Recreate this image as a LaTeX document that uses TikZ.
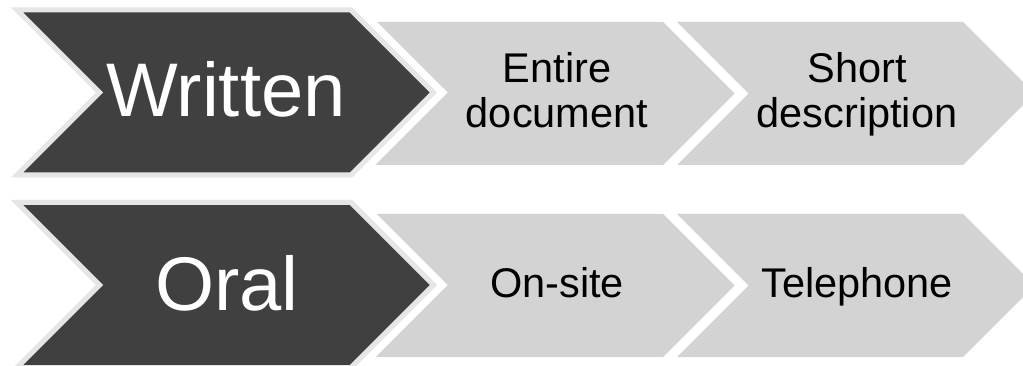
\documentclass[tikz,border=0pt]{standalone}
\usepackage{fontspec}
\setmainfont{Liberation Sans}
\definecolor{darkchev}{HTML}{404040}
\definecolor{lightchev}{HTML}{D3D3D3}
\definecolor{rimgray}{HTML}{E6E6E6}
\tikzset{
  lightbox/.style={fill=lightchev},
  darkrim/.style={draw=white, line width=20pt, line join=miter},
  darkbox/.style={fill=darkchev, draw=rimgray, line width=5pt, line join=miter},
  bigtext/.style={text=white, font=\fontsize{76}{80}\selectfont, inner sep=0pt, anchor=base},
  smalltext/.style={text=black, font=\fontsize{41.5}{45}\selectfont, inner sep=0pt, anchor=base, align=center},
}
\begin{document}
\begin{tikzpicture}[x=1pt, y=-1pt]
\useasboundingbox (0,0) rectangle (1023,366);
\begin{scope}
\clip (0,0) rectangle (1023,366);
% row 1 light chevrons
\path[lightbox] (360,22) -- (663,22) -- (734.5,93.5) -- (663,165) -- (360,165) -- (431.5,93.5) -- cycle;
\path[lightbox] (677,22) -- (963,22) -- (1034.5,93.5) -- (963,165) -- (677,165) -- (748.5,93.5) -- cycle;
% row 2 light chevrons
\path[lightbox] (360,214) -- (663,214) -- (734.5,285.5) -- (663,357) -- (360,357) -- (431.5,285.5) -- cycle;
\path[lightbox] (677,214) -- (963,214) -- (1034.5,285.5) -- (963,357) -- (677,357) -- (748.5,285.5) -- cycle;
% row 1 dark chevron
\path[darkrim] (17,10) -- (351,10) -- (433.5,92.5) -- (351,175) -- (17,175) -- (99.5,92.5) -- cycle;
\path[darkbox] (17,10) -- (351,10) -- (433.5,92.5) -- (351,175) -- (17,175) -- (99.5,92.5) -- cycle;
% row 2 dark chevron
\path[darkrim] (17,202.5) -- (351,202.5) -- (433.5,285) -- (351,367.5) -- (17,367.5) -- (99.5,285) -- cycle;
\path[darkbox] (17,202.5) -- (351,202.5) -- (433.5,285) -- (351,367.5) -- (17,367.5) -- (99.5,285) -- cycle;
\end{scope}
% labels
\node[bigtext] (written) at (226,117) {Written};
\node[bigtext] (oral) at (227,310) {Oral};
\node[smalltext] (entire) at (557,128) {Entire\\document};
\node[smalltext] (short) at (857,128) {Short\\description};
\node[smalltext] (onsite) at (557,297) {On-site};
\node[smalltext] (tel) at (857,297) {Telephone};
\end{tikzpicture}
\end{document}
